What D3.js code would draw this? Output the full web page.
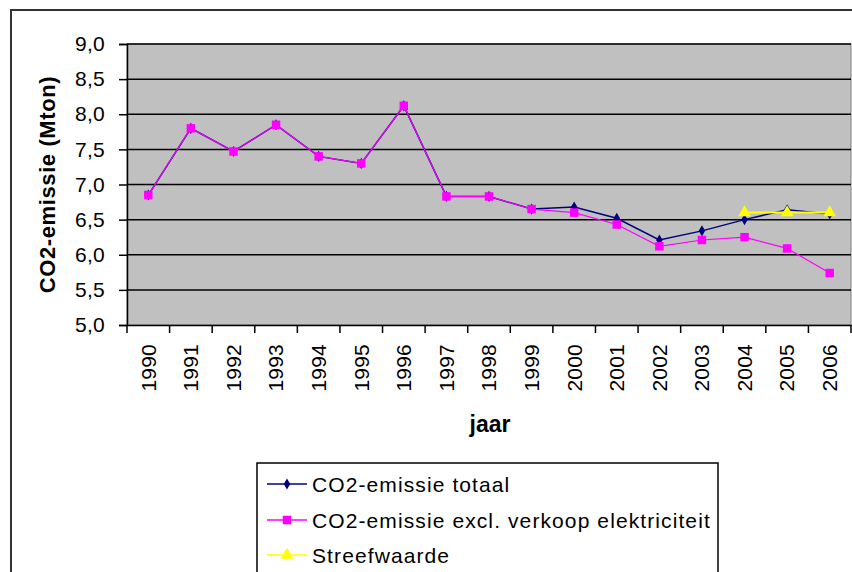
<!DOCTYPE html>
<html><head><meta charset="utf-8">
<script src="https://cdn.jsdelivr.net/npm/d3@7"></script>
<style>body{margin:0;background:#fff}svg{display:block}text{font-family:"Liberation Sans",Arial,sans-serif}</style>
</head><body><svg id="c" width="852" height="572"></svg>
<script>
const years = ["1990","1991","1992","1993","1994","1995","1996","1997","1998","1999","2000","2001","2002","2003","2004","2005","2006"];
const totaal = [6.85,7.8,7.47,7.85,7.4,7.3,8.12,6.83,6.83,6.65,6.68,6.52,6.21,6.34,6.5,6.64,6.58];
const exclVerkoop = [6.85,7.8,7.47,7.85,7.4,7.3,8.12,6.83,6.83,6.65,6.6,6.43,6.12,6.21,6.25,6.09,5.74];
const streefwaarde = [null,null,null,null,null,null,null,null,null,null,null,null,null,null,6.6,6.6,6.6];
const yTicks = [5.0,5.5,6.0,6.5,7.0,7.5,8.0,8.5,9.0];
const seriesNames = ["CO2-emissie totaal","CO2-emissie excl. verkoop elektriciteit","Streefwaarde"];

const svg = d3.select("#c");
const L=127, R=851, T=44, B=325;
svg.append("rect").attr("x",11).attr("y",10).attr("width",860).attr("height",600).attr("fill","none").attr("stroke","#333").attr("stroke-width",2);
const x = d3.scaleBand().domain(years).range([L,R]);
const y = d3.scaleLinear().domain([5,9]).range([B,T]);
svg.append("rect").attr("x",L).attr("y",T).attr("width",R-L).attr("height",B-T).attr("fill","#C0C0C0").attr("stroke","#808080");
svg.append("g").selectAll("line").data(yTicks.slice(1)).join("line")
  .attr("x1",L).attr("x2",R).attr("y1",d=>y(d)).attr("y2",d=>y(d)).attr("stroke","#000").attr("stroke-width",1.5);
const ya = svg.append("g").attr("transform",`translate(${L},0)`)
  .call(d3.axisLeft(y).tickValues(yTicks).tickSize(8).tickFormat(d=>d3.format(".1f")(d).replace(".",",")));
ya.select(".domain").attr("stroke","#000").attr("stroke-width",1.5);
ya.selectAll(".tick line").attr("stroke","#000").attr("stroke-width",1.5);
ya.selectAll("text").attr("font-size",21).attr("fill","#000").attr("x",-22).attr("font-family","Liberation Sans, Arial, sans-serif").attr("letter-spacing","0.3");
const xa = svg.append("g").attr("transform",`translate(0,${B})`)
  .call(d3.axisBottom(x).tickSize(0));
xa.select(".domain").attr("stroke","#000").attr("stroke-width",1.5);
svg.append("g").selectAll("line").data(years).join("line")
  .attr("x1",d=>x(d)).attr("x2",d=>x(d)).attr("y1",B).attr("y2",B+8).attr("stroke","#000").attr("stroke-width",1.5);
svg.append("line").attr("x1",R).attr("x2",R).attr("y1",B).attr("y2",B+8).attr("stroke","#000").attr("stroke-width",1.5);
xa.selectAll("text").attr("font-size",21).attr("fill","#000").attr("font-family","Liberation Sans, Arial, sans-serif")
  .attr("transform","rotate(-90)").attr("text-anchor","end").attr("x",-19).attr("y",0).attr("dy","0.35em").attr("letter-spacing","0.2");
svg.append("text").attr("x",490).attr("y",432).attr("text-anchor","middle").attr("font-size",23).attr("font-weight","bold").text("jaar");
svg.append("text").attr("transform",`translate(55,${(T+B)/2}) rotate(-90)`).attr("text-anchor","middle").attr("font-size",22).attr("font-weight","bold").attr("letter-spacing","0.6").text("CO2-emissie (Mton)");

const cx = d=>x(d)+x.bandwidth()/2;
const series = [
 {vals:totaal,color:"#000080",w:1.5,sym:d3.symbolDiamond,size:36},
 {vals:exclVerkoop,color:"#FF00FF",w:1.2,sym:d3.symbolSquare,size:72},
 {vals:streefwaarde,color:"#FFFF00",w:2,sym:d3.symbolTriangle,size:70}
];
series.forEach(s=>{
  const pts = years.map((yr,i)=>({yr,v:s.vals[i]})).filter(p=>p.v!=null);
  svg.append("path").datum(pts).attr("fill","none").attr("stroke",s.color).attr("stroke-width",s.w)
    .attr("d",d3.line().x(p=>cx(p.yr)).y(p=>y(p.v)));
  svg.append("g").selectAll("path").data(pts).join("path")
    .attr("transform",p=>`translate(${cx(p.yr)},${y(p.v)})`)
    .attr("d",d3.symbol().type(s.sym).size(s.size)).attr("fill",s.color);
});
const lg = svg.append("g");
lg.append("rect").attr("x",257).attr("y",463).attr("width",461).attr("height",130).attr("fill","#fff").attr("stroke","#000").attr("stroke-width",1.5);
const rowsY=[484,520,555];
series.forEach((s,i)=>{
  lg.append("line").attr("x1",267).attr("x2",307).attr("y1",rowsY[i]).attr("y2",rowsY[i]).attr("stroke",s.color).attr("stroke-width",1.5);
  lg.append("path").attr("transform",`translate(287,${rowsY[i]})`).attr("d",d3.symbol().type(s.sym).size(s.size)).attr("fill",s.color);
  lg.append("text").attr("x",312).attr("y",rowsY[i]).attr("dy","0.36em").attr("font-size",21).attr("letter-spacing","1.1").text(seriesNames[i]);
});
</script></body></html>
